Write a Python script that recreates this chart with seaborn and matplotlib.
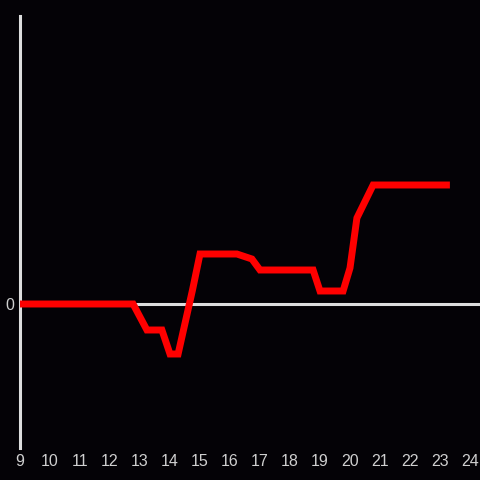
import matplotlib.pyplot as plt
import seaborn as sns
import pandas as pd

# Stunden (Dezimal) und Werte der Linie
hours = [9.0, 12.77, 13.23, 13.73, 14.0, 14.27, 14.75, 15.0, 16.23, 16.73, 17.0,
         18.77, 19.0, 19.77, 20.0, 20.23, 20.77, 23.33]
values = [0, 0, -26, -26, -50, -50, 14, 50, 50, 45, 34,
          34, 13, 13, 36, 86, 119, 119]
x_ticks = list(range(9, 25))

bg = '#040206'
axis_col = '#dddddd'
label_col = '#cfcfcf'

sns.set_theme(style='white')
plt.rcParams['font.family'] = ['Liberation Sans', 'DejaVu Sans']

df = pd.DataFrame({'hour': hours, 'value': values})

fig = plt.figure(figsize=(4.8, 4.8), dpi=100, facecolor=bg)
ax = fig.add_axes([20 / 480, 32 / 480, 460 / 480, 432 / 480])
ax.set_facecolor(bg)

# Nulllinie
ax.axhline(0, color=axis_col, linewidth=2.2, zorder=1)

sns.lineplot(data=df, x='hour', y='value', ax=ax, color='#ff0000',
             linewidth=5, zorder=3)
ax.lines[-1].set_solid_capstyle('butt')
ax.lines[-1].set_solid_joinstyle('miter')

ax.set_xlim(9, 9 + 460 / 30)
ax.set_ylim(-144, 288)
ax.set_xticks(x_ticks)
ax.set_xticklabels([str(t) for t in x_ticks])
ax.set_yticks([0])
ax.set_yticklabels(['0'])
ax.set_xlabel('')
ax.set_ylabel('')
ax.tick_params(axis='both', length=0, colors=label_col, labelsize=11.5, pad=4)

for side in ['top', 'right', 'bottom']:
    ax.spines[side].set_visible(False)
ax.spines['left'].set_color(axis_col)
ax.spines['left'].set_linewidth(2.2)
ax.grid(False)

fig.savefig('out.png', dpi=100, facecolor=bg)
